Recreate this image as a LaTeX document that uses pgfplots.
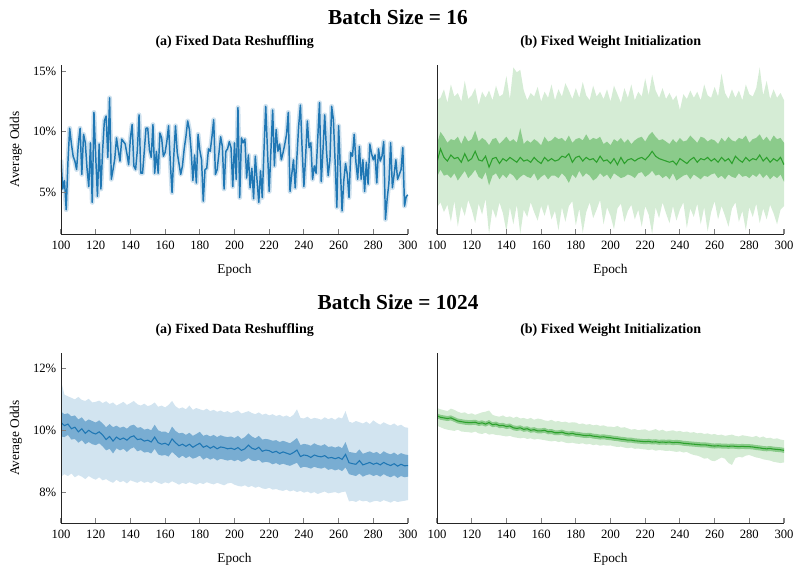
\documentclass[border=0pt]{standalone}
\usepackage{fontspec}
\setmainfont{Liberation Serif}
\usepackage{pgfplots}
\pgfplotsset{compat=1.18}
\usepackage{pgfplotstable}
\usepgfplotslibrary{fillbetween}
\definecolor{tblue}{HTML}{1F77B4}
\definecolor{tgreen}{HTML}{2CA02C}

\pgfplotstableread{
x y
100 7.7
101 5.3
102 6.0
103 3.6
104 7.5
105 10.3
106 9.0
107 8.0
108 7.6
109 6.9
110 9.0
111 10.3
112 6.5
113 9.8
114 9.1
115 7.0
116 5.5
117 9.1
118 4.2
119 11.6
120 8.0
121 4.7
122 9.0
123 5.3
124 8.5
125 10.9
126 11.3
127 7.9
128 12.8
129 6.1
130 6.9
131 7.8
132 9.5
133 8.5
134 7.6
135 9.4
136 9.2
137 9.0
138 8.2
139 7.3
140 9.5
141 10.6
142 7.2
143 6.9
144 8.5
145 11.4
146 6.6
147 6.6
148 8.4
149 10.3
150 10.3
151 8.5
152 7.9
153 10.6
154 6.6
155 8.4
156 6.6
157 9.9
158 9.5
159 8.0
160 8.3
161 9.2
162 10.5
163 7.5
164 5.0
165 8.0
166 10.5
167 8.3
168 7.4
169 6.5
170 7.2
171 8.6
172 9.6
173 10.9
174 10.2
175 8.5
176 6.0
177 8.1
178 5.8
179 9.8
180 8.5
181 7.7
182 4.3
183 6.9
184 7.0
185 8.6
186 8.4
187 9.6
188 11.0
189 6.5
190 6.9
191 8.2
192 9.6
193 8.8
194 5.3
195 8.4
196 8.6
197 9.2
198 8.7
199 5.5
200 9.1
201 6.1
202 12.0
203 4.6
204 9.5
205 9.1
206 9.4
207 6.2
208 8.1
209 5.4
210 7.0
211 4.5
212 8.0
213 6.0
214 4.2
215 6.8
216 4.6
217 8.5
218 12.1
219 8.5
220 5.1
221 8.5
222 11.8
223 7.2
224 10.2
225 8.4
226 9.0
227 7.7
228 8.3
229 9.0
230 9.8
231 11.6
232 5.1
233 6.5
234 7.7
235 5.4
236 8.0
237 10.5
238 12.2
239 8.5
240 5.5
241 8.0
242 10.9
243 8.7
244 9.1
245 6.1
246 7.2
247 6.6
248 9.5
249 12.4
250 5.9
251 8.5
252 11.4
253 8.5
254 6.4
255 7.7
256 12.1
257 11.0
258 7.5
259 3.8
260 10.5
261 7.0
262 3.5
263 6.0
264 7.4
265 6.5
266 4.6
267 8.3
268 8.0
269 9.8
270 7.5
271 6.1
272 8.8
273 6.1
274 7.7
275 5.1
276 7.5
277 5.7
278 9.0
279 8.2
280 7.7
281 8.1
282 5.8
283 8.6
284 7.6
285 8.0
286 9.2
287 2.8
288 4.5
289 5.8
290 9.1
291 5.4
292 6.5
293 7.7
294 6.1
295 6.5
296 6.9
297 8.7
298 3.9
299 4.7
300 4.8
}\tabTL

\pgfplotstableread{
x m dlo dhi llo lhi
100 7.5 6.3 9.0 3.8 12.6
102 8.6 6.9 10.0 4.2 12.8
104 7.9 6.4 9.6 3.4 13.5
106 7.6 6.5 9.1 4.0 12.4
108 8.1 6.2 9.4 2.6 13.9
110 7.8 6.6 9.3 4.3 12.9
112 7.9 6.0 9.6 2.2 13.2
114 7.5 6.4 9.0 3.9 12.5
116 8.2 6.8 9.7 3.1 14.2
118 7.6 6.2 9.2 4.4 12.7
120 7.8 6.5 9.4 3.6 13.0
122 8.4 6.9 10.1 2.5 13.6
124 7.7 6.3 9.2 4.1 12.2
126 7.6 6.1 9.5 3.2 13.3
128 8.0 6.7 9.3 4.5 12.8
130 7.1 5.6 8.9 1.6 13.4
132 7.8 6.4 9.4 3.7 12.6
134 7.9 6.6 9.5 2.9 13.8
136 7.4 6.1 9.0 4.2 12.9
138 7.8 6.5 9.3 3.3 13.1
140 7.6 6.2 9.6 1.8 14.6
142 7.9 6.6 9.2 3.8 12.7
144 7.7 6.4 9.4 2.4 15.3
146 7.5 6.0 9.1 4.0 14.9
148 7.9 6.3 10.3 1.6 15.1
150 7.6 6.5 9.0 3.6 13.4
152 7.7 6.3 9.3 3.0 12.6
154 7.5 6.2 9.1 4.2 13.2
156 7.9 6.6 9.4 3.4 12.9
158 7.6 6.0 9.2 2.7 13.7
160 7.4 6.3 8.9 3.9 12.5
162 7.9 6.5 9.6 3.1 13.3
164 7.6 6.1 9.2 4.1 12.8
166 7.8 6.4 9.3 2.8 13.9
168 7.6 6.4 9.6 3.5 12.6
170 7.7 6.2 9.4 1.9 13.5
172 8.0 6.6 9.5 3.8 12.9
174 7.9 6.3 9.2 2.6 14.0
176 8.2 5.8 9.7 3.9 13.4
178 7.5 6.5 9.1 4.3 12.7
180 7.9 6.2 9.4 2.3 13.6
182 8.0 6.8 9.5 3.7 12.8
184 7.6 6.3 9.3 1.7 14.1
186 7.9 6.6 9.8 3.4 13.0
188 7.7 6.4 9.3 4.2 12.6
190 7.8 6.0 9.5 2.9 13.8
192 7.5 6.2 9.4 3.6 12.9
194 8.0 6.6 9.6 4.4 13.3
196 7.6 6.3 9.0 2.4 12.7
198 7.7 6.5 9.2 3.8 13.5
200 7.4 6.1 8.9 3.1 12.5
202 7.8 6.6 9.4 2.0 13.8
204 7.3 6.4 9.2 3.7 13.1
206 7.9 6.2 9.5 4.1 12.4
208 7.4 6.3 9.1 2.6 13.6
210 7.7 6.5 9.4 3.5 12.8
212 7.8 6.4 9.0 4.0 13.9
214 7.6 6.2 9.3 2.8 12.6
216 7.8 6.6 9.5 3.6 13.3
218 7.9 6.7 9.6 2.2 12.9
220 7.7 6.3 9.2 3.9 14.4
222 8.0 6.5 9.7 3.2 13.0
224 8.4 6.8 10.0 1.6 14.7
226 8.0 6.4 9.6 3.8 13.4
228 7.8 6.5 9.3 2.9 12.8
230 7.7 6.2 9.4 4.2 13.6
232 7.6 6.4 9.2 3.3 12.7
234 7.5 6.1 9.0 2.5 13.2
236 7.6 6.6 9.4 3.9 12.6
238 7.3 6.0 9.1 2.7 13.0
240 7.8 6.2 9.5 3.6 11.8
242 7.6 6.4 9.2 4.2 13.1
244 7.4 6.5 9.3 2.1 12.7
246 7.7 6.1 9.7 3.7 13.4
248 7.9 6.5 9.4 3.0 12.8
250 7.5 6.3 9.1 4.1 13.3
252 7.8 6.1 9.6 2.4 12.6
254 7.7 6.4 9.5 3.8 13.9
256 7.9 6.3 9.2 1.8 13.0
258 7.6 6.5 9.4 3.4 12.8
260 7.8 6.6 9.3 4.3 13.7
262 7.5 6.2 9.0 2.8 12.9
264 7.9 6.4 9.5 3.9 14.8
266 7.6 6.1 9.2 3.1 13.2
268 7.8 6.5 9.6 2.2 12.7
270 7.4 6.3 9.3 3.7 13.5
272 8.0 6.2 9.2 4.2 12.8
274 7.7 6.6 9.5 2.6 13.4
276 7.5 6.3 9.4 3.5 12.6
278 7.9 6.4 9.7 1.9 13.9
280 7.6 6.2 9.1 3.8 13.1
282 7.8 6.5 9.4 3.0 12.9
284 7.7 6.3 9.5 4.1 13.6
286 8.1 6.6 9.8 2.5 15.3
288 7.6 6.2 9.3 3.7 13.0
290 7.9 6.5 9.6 2.8 14.2
292 7.5 6.1 9.2 4.0 12.7
294 7.8 6.4 9.7 3.3 13.5
296 7.6 6.2 9.4 2.4 12.8
298 7.9 6.5 9.5 3.6 13.2
300 7.3 5.9 9.1 3.9 12.6
}\tabTR

\pgfplotstableread{
x m dlo dhi llo lhi
100 10.25 9.80 10.60 8.50 11.60
102 10.15 9.78 10.52 8.58 11.15
104 10.20 9.85 10.55 8.52 11.10
106 10.05 9.70 10.45 8.60 11.05
108 10.10 9.72 10.48 8.48 11.00
110 9.95 9.60 10.35 8.55 11.08
112 10.05 9.68 10.42 8.50 10.98
114 9.90 9.55 10.28 8.42 10.95
116 10.00 9.62 10.35 8.52 11.02
118 9.92 9.55 10.30 8.45 10.90
120 9.88 9.52 10.25 8.40 10.92
122 9.95 9.58 10.32 8.48 10.96
124 9.85 9.48 10.22 8.38 10.88
126 9.70 9.35 10.10 8.42 10.94
128 9.80 9.40 10.20 8.35 10.85
130 9.65 9.25 10.10 8.30 10.90
132 9.78 9.42 10.15 8.40 10.80
134 9.70 9.35 10.08 8.32 10.86
136 9.75 9.40 10.12 8.36 10.92
138 9.68 9.30 10.05 8.28 10.82
140 9.78 9.40 10.15 8.38 10.88
142 9.82 9.45 10.18 8.34 10.95
144 9.70 9.32 10.08 8.30 10.84
146 9.72 9.36 10.10 8.36 10.80
148 9.65 9.28 10.02 8.30 10.86
150 9.68 9.30 10.05 8.34 10.78
152 9.62 9.25 10.00 8.28 10.82
154 9.78 9.40 10.18 8.36 10.90
156 9.60 9.22 10.00 8.30 10.76
158 9.55 9.18 9.95 8.26 10.80
160 9.58 9.20 9.96 8.32 10.74
162 9.52 9.15 9.90 8.28 10.82
164 9.72 9.30 10.12 8.35 10.95
166 9.60 9.20 9.98 8.30 10.78
168 9.50 9.10 9.90 8.24 10.70
170 9.55 9.18 9.92 8.30 10.74
172 9.48 9.10 9.85 8.26 10.68
174 9.55 9.16 9.92 8.32 10.80
176 9.45 9.08 9.82 8.28 10.66
178 9.52 9.12 9.88 8.24 10.72
180 9.58 9.18 9.95 8.30 10.68
182 9.45 9.05 9.82 8.26 10.64
184 9.50 9.12 9.86 8.32 10.70
186 9.42 9.05 9.80 8.28 10.62
188 9.48 9.10 9.85 8.25 10.66
190 9.40 9.02 9.78 8.30 10.60
192 9.46 9.08 9.84 8.26 10.64
194 9.44 9.05 9.80 8.22 10.58
196 9.40 9.02 9.78 8.28 10.62
198 9.42 9.05 9.80 8.30 10.56
200 9.38 9.00 9.75 8.24 10.60
202 9.44 9.05 9.82 8.20 10.64
204 9.35 8.98 9.72 8.18 10.54
206 9.40 9.02 9.78 8.22 10.58
208 9.52 9.10 9.90 8.16 10.62
210 9.42 9.02 9.80 8.20 10.56
212 9.38 9.00 9.74 8.14 10.52
214 9.45 9.05 9.82 8.18 10.58
216 9.32 8.95 9.70 8.12 10.50
218 9.36 8.98 9.72 8.10 10.54
220 9.34 8.96 9.70 8.14 10.48
222 9.28 8.90 9.66 8.08 10.52
224 9.32 8.94 9.68 8.10 10.46
226 9.25 8.88 9.62 8.06 10.50
228 9.30 8.92 9.66 8.04 10.44
230 9.26 8.88 9.62 8.08 10.48
232 9.22 8.85 9.58 8.02 10.42
234 9.28 8.90 9.66 8.06 10.50
236 9.36 8.95 9.75 8.00 10.68
238 9.15 8.78 9.52 8.04 10.40
240 9.20 8.82 9.56 7.98 10.38
242 9.18 8.80 9.54 8.02 10.44
244 9.12 8.76 9.50 7.96 10.36
246 9.20 8.82 9.58 8.00 10.40
248 9.16 8.78 9.52 7.94 10.38
250 9.14 8.76 9.50 7.98 10.34
252 9.18 8.80 9.55 8.02 10.42
254 9.10 8.72 9.46 7.96 10.36
256 9.12 8.75 9.48 7.98 10.40
258 9.08 8.70 9.44 8.00 10.34
260 9.12 8.74 9.48 7.96 10.42
262 9.06 8.68 9.42 8.00 10.38
264 9.22 8.80 9.62 8.02 10.62
266 8.95 8.58 9.30 7.70 10.28
268 8.92 8.55 9.28 7.72 10.24
270 8.90 8.52 9.26 7.68 10.30
272 9.02 8.60 9.38 7.74 10.26
274 8.88 8.50 9.24 7.70 10.22
276 8.92 8.55 9.28 7.72 10.28
278 8.96 8.58 9.32 7.66 10.20
280 8.90 8.52 9.26 7.70 10.32
282 8.94 8.56 9.30 7.72 10.24
284 8.88 8.50 9.22 7.68 10.18
286 8.96 8.58 9.32 7.74 10.26
288 8.90 8.52 9.26 7.70 10.20
290 8.86 8.48 9.22 7.66 10.16
292 8.92 8.54 9.28 7.72 10.22
294 8.84 8.46 9.20 7.68 10.14
296 8.90 8.52 9.26 7.70 10.18
298 8.85 8.48 9.22 7.72 10.10
300 8.86 8.50 9.20 7.74 10.08
}\tabBL

\pgfplotstableread{
x m dlo dhi llo lhi
100 10.47 10.39 10.55 10.15 10.72
102 10.42 10.34 10.50 10.10 10.68
104 10.40 10.32 10.48 10.05 10.65
106 10.38 10.30 10.46 10.02 10.62
108 10.40 10.32 10.48 10.00 10.70
110 10.35 10.27 10.43 9.98 10.66
112 10.30 10.22 10.38 10.02 10.60
114 10.28 10.20 10.36 9.96 10.56
116 10.26 10.18 10.34 9.95 10.58
118 10.25 10.17 10.33 9.94 10.52
120 10.25 10.17 10.33 9.92 10.55
122 10.26 10.18 10.34 9.96 10.50
124 10.22 10.14 10.30 9.90 10.54
126 10.24 10.16 10.32 9.88 10.58
128 10.20 10.12 10.28 9.92 10.60
130 10.25 10.17 10.33 9.86 10.64
132 10.18 10.10 10.26 9.88 10.50
134 10.20 10.12 10.28 9.85 10.46
136 10.15 10.07 10.23 9.84 10.44
138 10.16 10.08 10.24 9.82 10.48
140 10.12 10.04 10.20 9.80 10.42
142 10.14 10.06 10.22 9.82 10.45
144 10.08 10.00 10.16 9.78 10.40
146 10.06 9.98 10.14 9.76 10.44
148 10.08 10.00 10.16 9.74 10.38
150 10.03 9.95 10.11 9.76 10.40
152 10.05 9.97 10.13 9.72 10.36
154 10.00 9.92 10.08 9.74 10.40
156 10.02 9.94 10.10 9.70 10.34
158 9.98 9.90 10.06 9.72 10.38
160 9.98 9.90 10.06 9.70 10.36
162 10.00 9.92 10.08 9.68 10.32
164 9.95 9.87 10.03 9.66 10.30
166 9.96 9.88 10.04 9.64 10.34
168 9.92 9.84 10.00 9.66 10.28
170 9.92 9.84 10.00 9.62 10.30
172 9.94 9.86 10.02 9.64 10.26
174 9.90 9.82 9.98 9.60 10.28
176 9.88 9.80 9.96 9.58 10.24
178 9.90 9.82 9.98 9.60 10.26
180 9.87 9.79 9.95 9.57 10.25
182 9.86 9.78 9.94 9.56 10.20
184 9.84 9.76 9.92 9.58 10.22
186 9.83 9.75 9.91 9.54 10.18
188 9.84 9.76 9.92 9.56 10.20
190 9.81 9.73 9.89 9.52 10.16
192 9.80 9.72 9.88 9.54 10.18
194 9.78 9.70 9.86 9.50 10.14
196 9.79 9.71 9.87 9.52 10.16
198 9.77 9.69 9.85 9.50 10.12
200 9.76 9.68 9.84 9.51 10.12
202 9.74 9.66 9.82 9.48 10.10
204 9.73 9.65 9.81 9.46 10.14
206 9.71 9.63 9.79 9.47 10.08
208 9.70 9.62 9.78 9.44 10.10
210 9.68 9.60 9.76 9.42 10.06
212 9.68 9.60 9.76 9.44 10.02
214 9.66 9.58 9.74 9.40 10.04
216 9.65 9.57 9.73 9.41 10.00
218 9.64 9.56 9.72 9.39 10.02
220 9.63 9.55 9.71 9.38 10.03
222 9.64 9.56 9.72 9.36 9.98
224 9.62 9.54 9.70 9.38 10.00
226 9.63 9.55 9.71 9.34 10.04
228 9.61 9.53 9.69 9.36 9.98
230 9.62 9.54 9.70 9.35 10.02
232 9.61 9.53 9.69 9.33 9.96
234 9.62 9.54 9.70 9.34 9.98
236 9.60 9.52 9.68 9.32 10.00
238 9.61 9.53 9.69 9.30 9.96
240 9.60 9.52 9.68 9.32 9.98
242 9.58 9.50 9.66 9.28 9.94
244 9.57 9.49 9.65 9.30 9.96
246 9.56 9.48 9.64 9.24 9.92
248 9.55 9.47 9.63 9.20 9.94
250 9.54 9.46 9.62 9.18 9.90
252 9.53 9.45 9.61 9.14 9.92
254 9.53 9.45 9.61 9.08 9.88
256 9.52 9.44 9.60 9.10 9.90
258 9.50 9.42 9.58 9.02 9.86
260 9.49 9.41 9.57 9.00 9.88
262 9.50 9.42 9.58 9.06 9.84
264 9.49 9.41 9.57 9.12 9.86
266 9.49 9.41 9.57 9.08 9.82
268 9.48 9.40 9.56 8.94 9.84
270 9.49 9.41 9.57 8.88 9.86
272 9.48 9.40 9.56 9.10 9.82
274 9.47 9.39 9.55 9.14 9.80
276 9.48 9.40 9.56 9.12 9.84
278 9.47 9.39 9.55 9.18 9.82
280 9.47 9.39 9.55 9.20 9.80
282 9.46 9.38 9.54 9.16 9.78
284 9.44 9.36 9.52 9.12 9.82
286 9.43 9.35 9.51 9.10 9.76
288 9.41 9.33 9.49 9.06 9.80
290 9.40 9.32 9.48 9.04 9.74
292 9.41 9.33 9.49 9.02 9.76
294 9.39 9.31 9.47 8.98 9.72
296 9.38 9.30 9.46 8.96 9.74
298 9.37 9.29 9.45 8.94 9.70
300 9.35 9.27 9.43 8.96 9.68
}\tabBR

\pgfplotsset{
  panel/.style={
    scale only axis, width=260.25pt,
    xmin=100, xmax=300, xtick={100,120,...,300},
    axis x line*=bottom, axis y line*=left,
    axis line style={-, black!85, line width=0.7pt},
    tick align=inside, major tick length=4pt,
    tick style={black!50, line width=0.8pt},
    /pgf/number format/assume math mode=true,
    tick label style={font=\fontsize{9.5}{11}\selectfont},
    xticklabel style={yshift=-1.5pt},
    label style={font=\fontsize{10}{12}\selectfont},
    xlabel={Epoch},
    xlabel style={at={(axis description cs:0.5,0)}, anchor=center, yshift=-27pt},
    ylabel style={at={(axis description cs:-0.1297,0.5)}, anchor=center},
    axis on top,
  },
  toprow/.style={height=126.75pt, ymin=1.6, ymax=15.5},
  botrow/.style={height=127.5pt, ymin=7, ymax=12.5},
}

\begin{document}
\begin{tikzpicture}

\node[font=\bfseries\fontsize{16}{18}\selectfont] at (298.5pt,414pt) {Batch Size = 16};
\node[font=\bfseries\fontsize{10.5}{12}\selectfont] at (176pt,395.25pt) {(a) Fixed Data Reshuffling};
\node[font=\bfseries\fontsize{10.5}{12}\selectfont] at (458pt,395.25pt) {(b) Fixed Weight Initialization};
\node[font=\bfseries\fontsize{16}{18}\selectfont] at (298.5pt,200.25pt) {Batch Size = 1024};
\node[font=\bfseries\fontsize{10.5}{12}\selectfont] at (176pt,179.25pt) {(a) Fixed Data Reshuffling};
\node[font=\bfseries\fontsize{10.5}{12}\selectfont] at (458pt,179.25pt) {(b) Fixed Weight Initialization};

% top left
\begin{axis}[panel, toprow, at={(45.75pt,251.25pt)}, anchor=south west,
  ytick={5,10,15}, yticklabels={5\%,10\%,15\%}, ylabel={Average Odds}]
\addplot[tblue!22, line width=3.6pt, line join=round] table[x=x,y=y]{\tabTL};
\addplot[tblue, line width=1.1pt, line join=round] table[x=x,y=y]{\tabTL};
\end{axis}

% top right
\begin{axis}[panel, toprow, at={(327.75pt,251.25pt)}, anchor=south west, ytick=\empty]
\addplot[name path=a1, draw=none] table[x=x,y=lhi]{\tabTR};
\addplot[name path=a2, draw=none] table[x=x,y=llo]{\tabTR};
\addplot[fill=tgreen!20, draw=none] fill between[of=a1 and a2];
\addplot[name path=b1, draw=none] table[x=x,y=dhi]{\tabTR};
\addplot[name path=b2, draw=none] table[x=x,y=dlo]{\tabTR};
\addplot[fill=tgreen!55, draw=none] fill between[of=b1 and b2];
\addplot[tgreen, line width=0.8pt] table[x=x,y=m]{\tabTR};
\end{axis}

% bottom left
\begin{axis}[panel, botrow, at={(45.75pt,34.5pt)}, anchor=south west,
  ytick={8,10,12}, yticklabels={8\%,10\%,12\%}, ylabel={Average Odds}]
\addplot[name path=a1, draw=none] table[x=x,y=lhi]{\tabBL};
\addplot[name path=a2, draw=none] table[x=x,y=llo]{\tabBL};
\addplot[fill=tblue!20, draw=none] fill between[of=a1 and a2];
\addplot[name path=b1, draw=none] table[x=x,y=dhi]{\tabBL};
\addplot[name path=b2, draw=none] table[x=x,y=dlo]{\tabBL};
\addplot[fill=tblue!60, draw=none] fill between[of=b1 and b2];
\addplot[tblue, line width=0.8pt] table[x=x,y=m]{\tabBL};
\end{axis}

% bottom right
\begin{axis}[panel, botrow, at={(327.75pt,34.5pt)}, anchor=south west, ytick=\empty]
\addplot[name path=a1, draw=none] table[x=x,y=lhi]{\tabBR};
\addplot[name path=a2, draw=none] table[x=x,y=llo]{\tabBR};
\addplot[fill=tgreen!20, draw=none] fill between[of=a1 and a2];
\addplot[name path=b1, draw=none] table[x=x,y=dhi]{\tabBR};
\addplot[name path=b2, draw=none] table[x=x,y=dlo]{\tabBR};
\addplot[fill=tgreen!55, draw=none] fill between[of=b1 and b2];
\addplot[tgreen, line width=0.8pt] table[x=x,y=m]{\tabBR};
\end{axis}

\pgfresetboundingbox
\path[use as bounding box] (0,0) rectangle (597pt,426.75pt);
\end{tikzpicture}
\end{document}
